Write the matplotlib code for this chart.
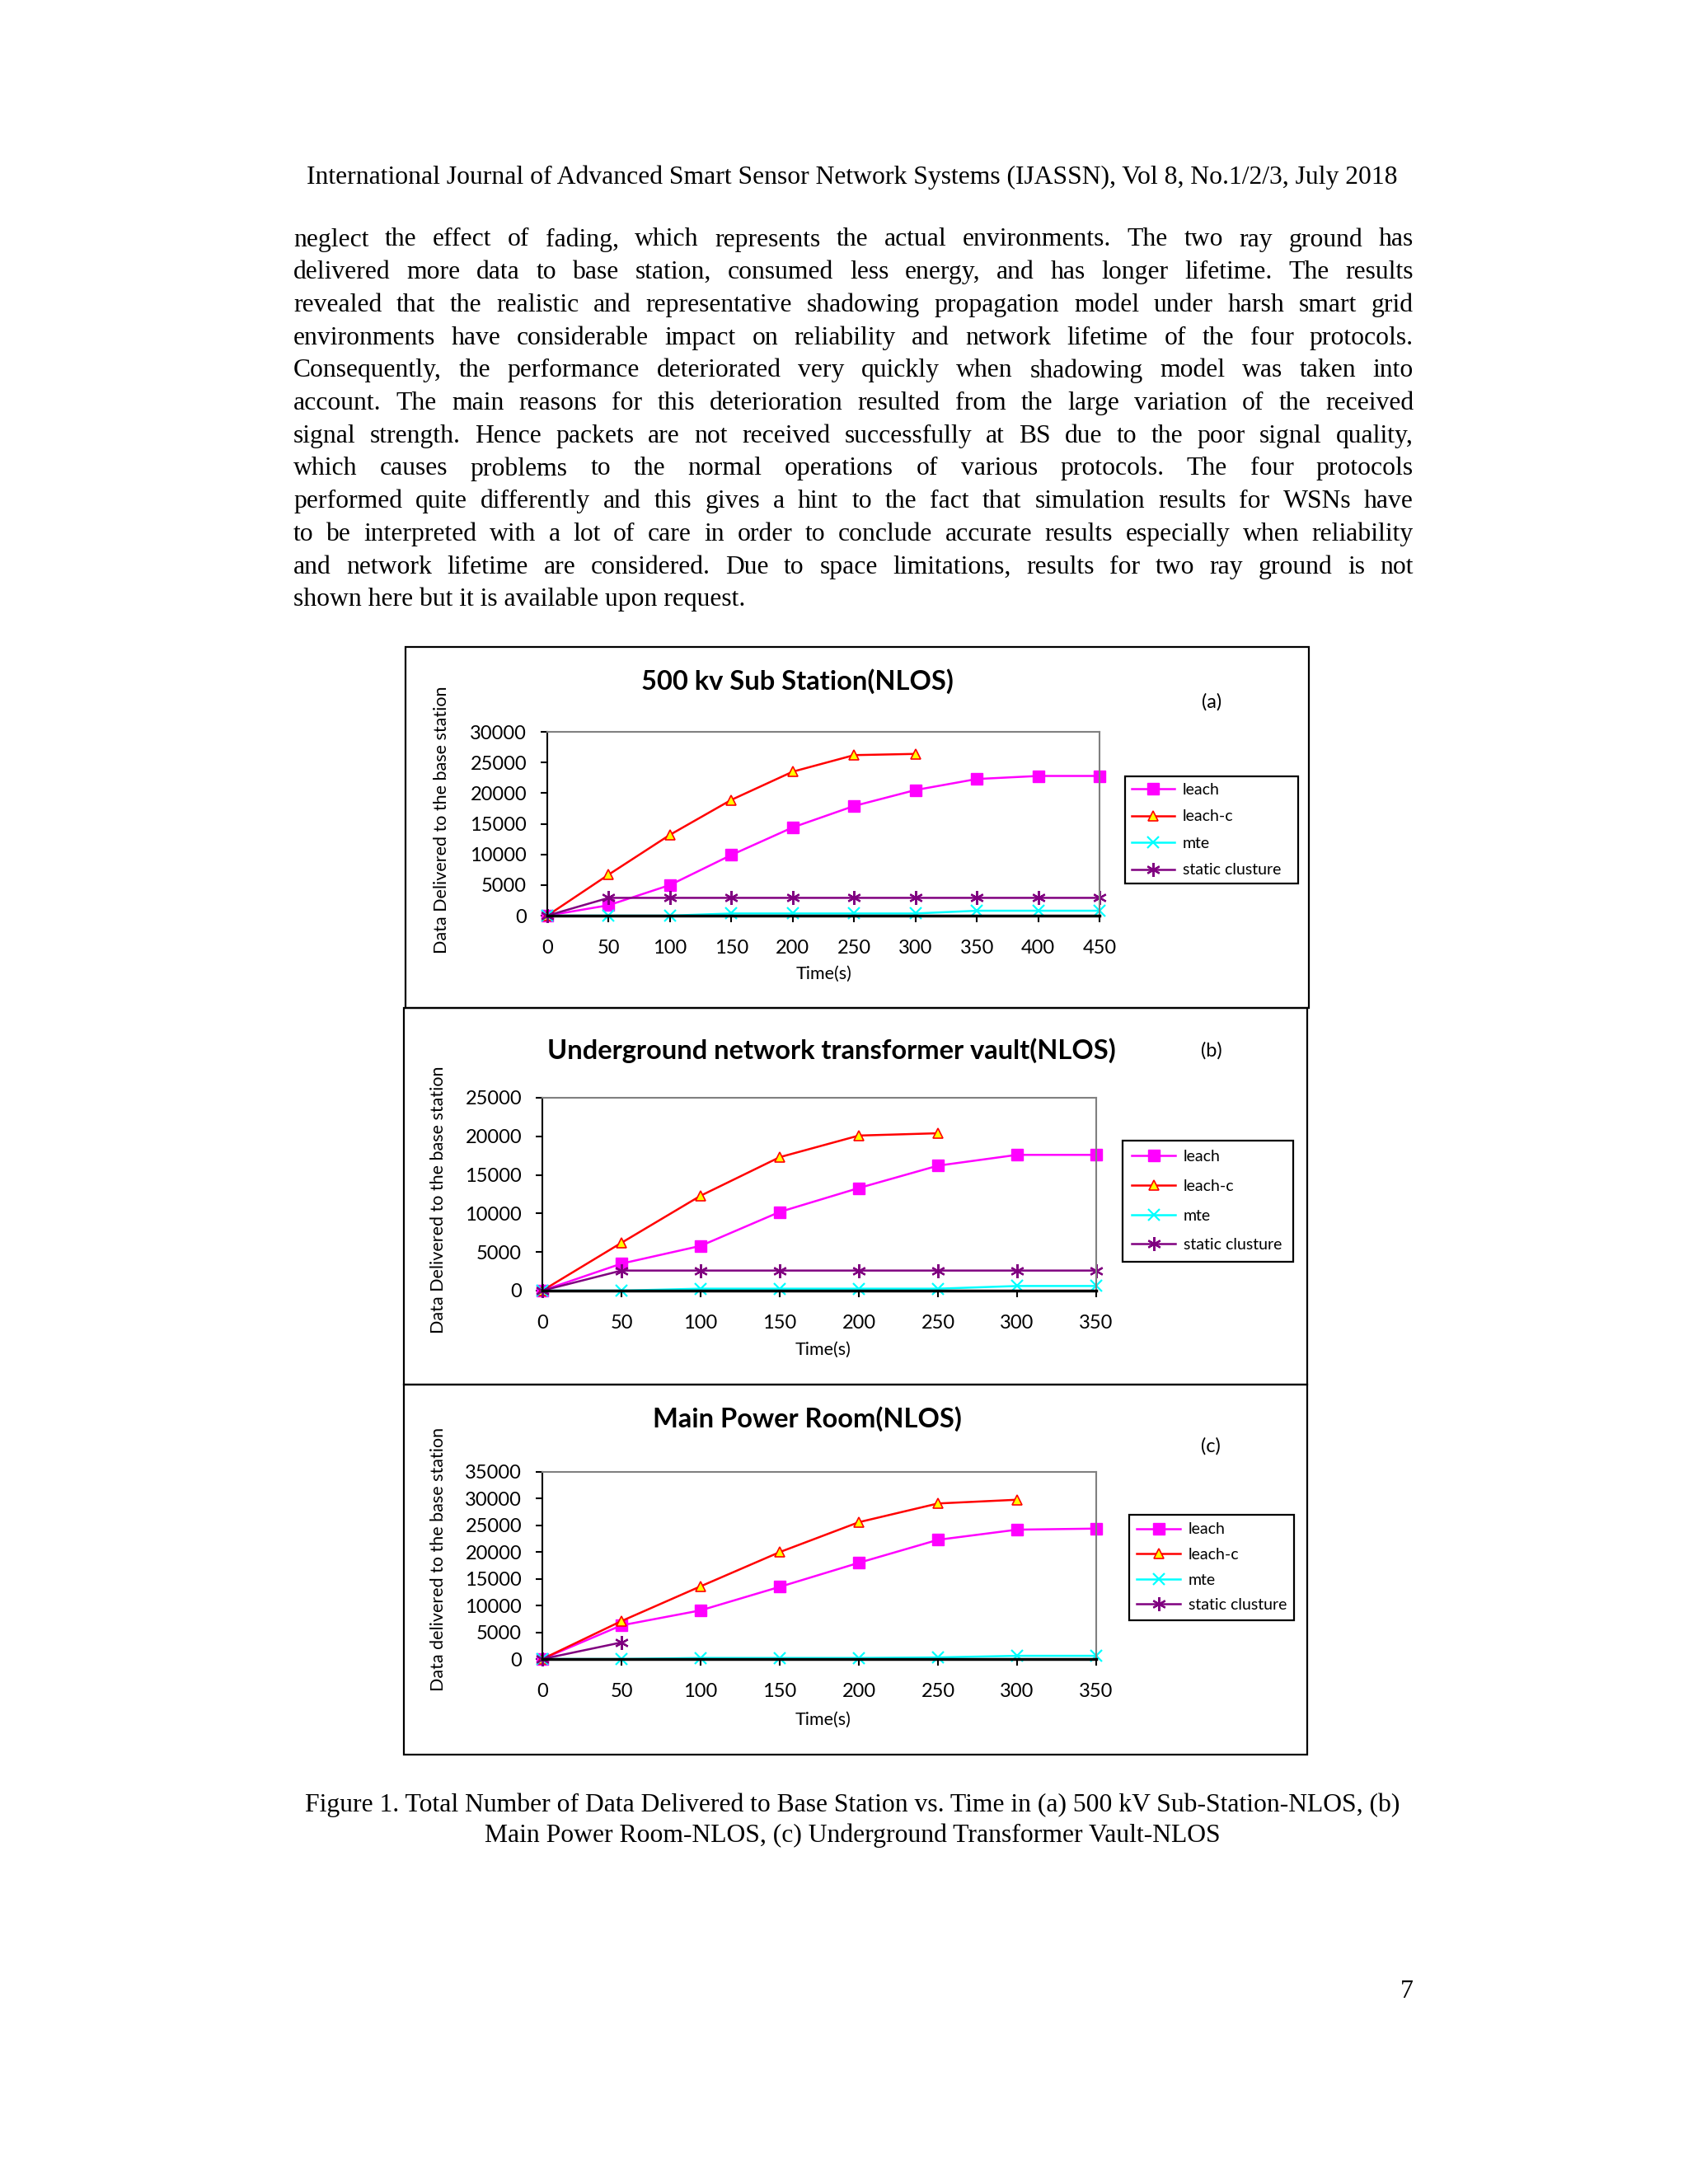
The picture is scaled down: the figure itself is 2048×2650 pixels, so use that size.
import matplotlib

matplotlib.use("Agg")
import matplotlib.pyplot as plt
from matplotlib.patches import Rectangle

W, H = 2048, 2650
DPI = 100

SERIF = ["Liberation Serif", "DejaVu Serif"]
SANS = ["Lato", "DejaVu Sans"]
TEXT_SIZE = 22.8

HEADER = ("International Journal of Advanced Smart Sensor Network Systems "
          "(IJASSN), Vol 8, No.1/2/3, July 2018")
BODY_LINES = [
    "neglect the effect of fading, which represents the actual environments. The two ray ground has",
    "delivered more data to base station, consumed less energy, and has longer lifetime. The results",
    "revealed that the realistic and representative shadowing propagation model under harsh smart grid",
    "environments have considerable impact on reliability and network lifetime of the four protocols.",
    "Consequently, the performance deteriorated very quickly when shadowing model was taken into",
    "account. The main reasons for this deterioration resulted from the large variation of the received",
    "signal strength. Hence packets are not received successfully at BS due to the poor signal quality,",
    "which causes problems to the normal operations of various protocols. The four protocols",
    "performed quite differently and this gives a hint to the fact that simulation results for WSNs have",
    "to be interpreted with a lot of care in order to conclude accurate results especially when reliability",
    "and network lifetime are considered. Due to space limitations, results for two ray ground is not",
    "shown here but it is available upon request.",
]
CAPTION_LINES = [
    "Figure 1. Total Number of Data Delivered to Base Station vs. Time in (a) 500 kV Sub-Station-NLOS, (b)",
    "Main Power Room-NLOS, (c) Underground Transformer Vault-NLOS",
]
PAGE_NUMBER = "7"

SERIES = ["leach", "leach-c", "mte", "static clusture"]

# (a) 500 kv Sub Station
TIME_A = [0, 50, 100, 150, 200, 250, 300, 350, 400, 450]
A_LEACH = [0, 1700, 5000, 9900, 14400, 17900, 20500, 22300, 22800, 22800]
A_LEACH_C = [0, 6700, 13200, 18900, 23500, 26200, 26400]
A_MTE = [0, 0, 0, 350, 350, 350, 350, 800, 800, 800]
A_STATIC = [0, 2900, 2900, 2900, 2900, 2900, 2900, 2900, 2900, 2900]

# (b) Underground network transformer vault
TIME_B = [0, 50, 100, 150, 200, 250, 300, 350]
B_LEACH = [0, 3500, 5800, 10200, 13300, 16200, 17600, 17600]
B_LEACH_C = [0, 6200, 12300, 17300, 20100, 20400]
B_MTE = [0, 0, 250, 250, 250, 250, 600, 600]
B_STATIC = [0, 2600, 2600, 2600, 2600, 2600, 2600, 2600]

# (c) Main Power Room
TIME_C = [0, 50, 100, 150, 200, 250, 300, 350]
C_LEACH = [0, 6300, 9100, 13500, 18000, 22300, 24200, 24400]
C_LEACH_C = [0, 7100, 13600, 20000, 25600, 29100, 29800]
C_MTE = [0, 0, 200, 200, 200, 300, 600, 600]
C_STATIC = [0, 3100]

STYLES = {
    "leach": dict(color="#FF00FF", marker="s", markersize=10,
                  markerfacecolor="#FF00FF", markeredgecolor="#FF00FF"),
    "leach-c": dict(color="#FF0000", marker="^", markersize=9,
                    markerfacecolor="#FFFF00", markeredgecolor="#FF0000",
                    markeredgewidth=1.2),
    "mte": dict(color="#00FFFF", marker="x", markersize=10, markeredgewidth=1.6),
    "static clusture": dict(color="#800080", marker=(6, 2, 0), markersize=12,
                            markeredgewidth=1.6),
}

# layout in page pixels (from top)
PANELS = [
    dict(frame=(492, 785, 1588, 1223), axes=(664, 888, 1334, 1111),
         title="500 kv Sub Station(NLOS)", title_xy=(967, 827),
         tag="(a)", tag_xy=(1470, 852),
         ylabel="Data Delivered to the base station", ylabel_xy=(536, 995),
         xlabel_xy=(1000, 1182), legend=(1365, 942, 210),
         lab_space=0.8, bpad=0.4, xmax=450, ymax=30000),
    dict(frame=(490, 1223, 1586, 1680), axes=(658, 1332, 1330, 1566),
         title="Underground network transformer vault(NLOS)", title_xy=(1009, 1275),
         tag="(b)", tag_xy=(1470, 1275),
         ylabel="Data Delivered to the base station", ylabel_xy=(532, 1456),
         xlabel_xy=(999, 1638), legend=(1362, 1384, 207),
         lab_space=0.96, bpad=0.58, xmax=350, ymax=25000),
    dict(frame=(490, 1680, 1586, 2129), axes=(658, 1786, 1330, 2013),
         title="Main Power Room(NLOS)", title_xy=(979, 1722),
         tag="(c)", tag_xy=(1469, 1755),
         ylabel="Data delivered to the base station", ylabel_xy=(532, 1892),
         xlabel_xy=(999, 2087), legend=(1370, 1838, 200),
         lab_space=0.7, bpad=0.48, xmax=350, ymax=35000),
]

PANEL_DATA = [
    (TIME_A, [A_LEACH, A_LEACH_C, A_MTE, A_STATIC]),
    (TIME_B, [B_LEACH, B_LEACH_C, B_MTE, B_STATIC]),
    (TIME_C, [C_LEACH, C_LEACH_C, C_MTE, C_STATIC]),
]


def fx(x):
    return x / W


def fy(y):
    return 1 - y / H


def justified_line(fig, line, y, left, right, size):
    renderer = fig.canvas.get_renderer()
    words = line.split()
    texts = [fig.text(0, fy(y), w, fontsize=size, family=SERIF, va="center")
             for w in words]
    widths = [t.get_window_extent(renderer).width for t in texts]
    gap = (right - left - sum(widths)) / (len(words) - 1)
    x = left
    for t, w in zip(texts, widths):
        t.set_x(fx(x))
        x += w + gap


def draw_panel(fig, cfg, time, values):
    x0, y0, x1, y1 = cfg["frame"]
    fig.patches.append(Rectangle((fx(x0), fy(y1)), (x1 - x0) / W, (y1 - y0) / H,
                                 transform=fig.transFigure, fill=False,
                                 edgecolor="black", linewidth=1.6))
    l, t, r, b = cfg["axes"]
    ax = fig.add_axes([fx(l), fy(b), (r - l) / W, (b - t) / H])
    for name, ys in zip(SERIES, values):
        ax.plot(time[:len(ys)], ys, label=name, linewidth=1.8, clip_on=False,
                **STYLES[name])
    ax.set_xlim(0, cfg["xmax"])
    ax.set_ylim(0, cfg["ymax"])
    ax.set_xticks(range(0, cfg["xmax"] + 1, 50))
    ax.set_yticks(range(0, cfg["ymax"] + 1, 5000))
    for s in ("top", "right"):
        ax.spines[s].set_color("#808080")
        ax.spines[s].set_linewidth(1.5)
    ax.spines["left"].set_linewidth(1.5)
    ax.spines["bottom"].set_linewidth(2.5)
    ax.tick_params(axis="x", direction="out", length=6, width=1.5, pad=15, labelsize=17)
    ax.tick_params(axis="y", direction="out", length=6, width=1.5, pad=12, labelsize=17)

    fig.text(fx(cfg["title_xy"][0]), fy(cfg["title_xy"][1]), cfg["title"],
             fontsize=23.5, fontweight="bold", ha="center", va="center")
    fig.text(fx(cfg["tag_xy"][0]), fy(cfg["tag_xy"][1]), cfg["tag"],
             fontsize=17, ha="center", va="center")
    fig.text(fx(cfg["ylabel_xy"][0]), fy(cfg["ylabel_xy"][1]), cfg["ylabel"],
             fontsize=15.5, rotation=90, ha="center", va="center")
    fig.text(fx(cfg["xlabel_xy"][0]), fy(cfg["xlabel_xy"][1]), "Time(s)",
             fontsize=15.5, ha="center", va="center")

    lx, ly, lw = cfg["legend"]
    leg = ax.legend(loc="upper left", bbox_to_anchor=(fx(lx), fy(ly), lw / W, 0),
                    bbox_transform=fig.transFigure, mode="expand",
                    borderaxespad=0, fontsize=14, frameon=True, fancybox=False,
                    handlelength=2.7, handletextpad=0.5,
                    labelspacing=cfg["lab_space"], borderpad=cfg["bpad"])
    frame = leg.get_frame()
    frame.set_edgecolor("black")
    frame.set_linewidth(1.6)
    frame.set_alpha(1)


def main():
    plt.rcParams["font.family"] = SANS
    fig = plt.figure(figsize=(W / DPI, H / DPI), dpi=DPI)
    fig.patch.set_facecolor("white")

    fig.text(fx(1034), fy(215), HEADER, fontsize=TEXT_SIZE, family=SERIF,
             ha="center", va="center")
    left, right = 356, 1715
    for i, line in enumerate(BODY_LINES):
        y = 291 + i * 39.7
        if i == len(BODY_LINES) - 1:
            fig.text(fx(left), fy(y), line, fontsize=TEXT_SIZE, family=SERIF, va="center")
        else:
            justified_line(fig, line, y, left, right, TEXT_SIZE)

    for cfg, (time, values) in zip(PANELS, PANEL_DATA):
        draw_panel(fig, cfg, time, values)

    for i, line in enumerate(CAPTION_LINES):
        fig.text(fx(1034), fy(2190 + i * 37), line, fontsize=TEXT_SIZE, family=SERIF,
                 ha="center", va="center")
    fig.text(fx(1707), fy(2417), PAGE_NUMBER, fontsize=TEXT_SIZE, family=SERIF,
             ha="center", va="center")

    fig.savefig("out.png", dpi=DPI)


if __name__ == "__main__":
    main()
